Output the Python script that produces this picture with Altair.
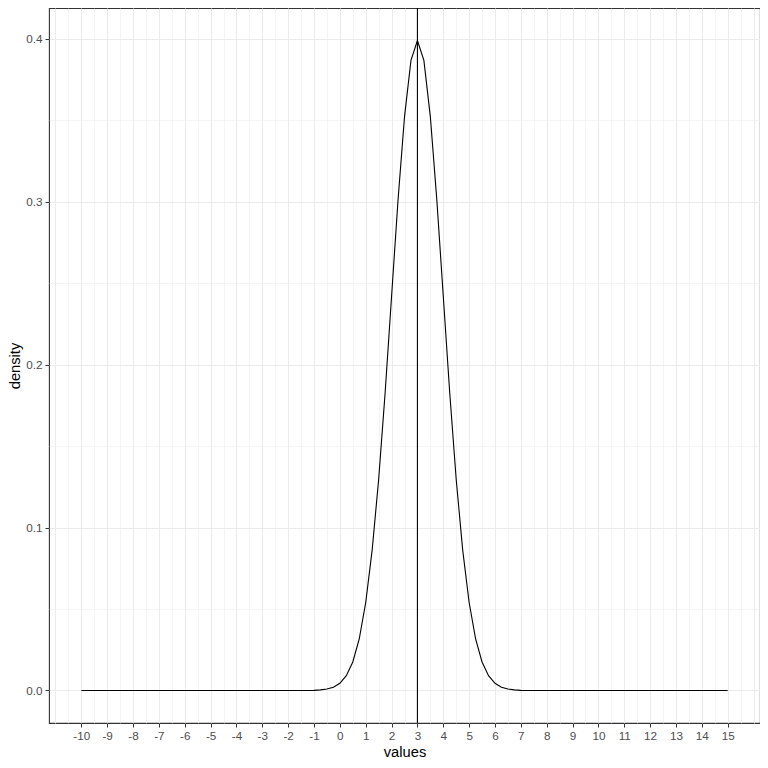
import altair as alt
import pandas as pd

# x positions of the density curve (step 0.25 from -10 to 15)
x_values = [
    -10.0, -9.75, -9.5, -9.25, -9.0, -8.75, -8.5, -8.25, -8.0, -7.75, -7.5, -7.25,
    -7.0, -6.75, -6.5, -6.25, -6.0, -5.75, -5.5, -5.25, -5.0, -4.75, -4.5, -4.25,
    -4.0, -3.75, -3.5, -3.25, -3.0, -2.75, -2.5, -2.25, -2.0, -1.75, -1.5, -1.25,
    -1.0, -0.75, -0.5, -0.25, 0.0, 0.25, 0.5, 0.75, 1.0, 1.25, 1.5, 1.75,
    2.0, 2.25, 2.5, 2.75, 3.0, 3.25, 3.5, 3.75, 4.0, 4.25, 4.5, 4.75,
    5.0, 5.25, 5.5, 5.75, 6.0, 6.25, 6.5, 6.75, 7.0,
    7.25, 7.5, 7.75, 8.0, 8.25, 8.5, 8.75, 9.0, 9.25, 9.5, 9.75, 10.0,
    10.25, 10.5, 10.75, 11.0, 11.25, 11.5, 11.75, 12.0, 12.25, 12.5, 12.75,
    13.0, 13.25, 13.5, 13.75, 14.0, 14.25, 14.5, 14.75, 15.0,
]
# density values
density_values = [
    0.0, 0.0, 0.0, 0.0, 0.0, 0.0, 0.0, 0.0, 0.0, 0.0, 0.0, 0.0,
    0.0, 0.0, 0.0, 0.0, 0.0, 0.0, 0.0, 0.0, 0.0, 0.0, 0.0, 0.0,
    0.0, 0.0, 0.0, 0.0, 0.0, 0.0, 0.0, 0.0, 0.0, 0.0, 0.0, 0.0,
    0.0001, 0.0004, 0.0009, 0.0020, 0.0044, 0.0091, 0.0175, 0.0317, 0.0540, 0.0863, 0.1295, 0.1826,
    0.2420, 0.3011, 0.3521, 0.3867, 0.3989, 0.3867, 0.3521, 0.3011, 0.2420, 0.1826, 0.1295, 0.0863,
    0.0540, 0.0317, 0.0175, 0.0091, 0.0044, 0.0020, 0.0009, 0.0004, 0.0001,
    0.0, 0.0, 0.0, 0.0, 0.0, 0.0, 0.0, 0.0, 0.0, 0.0, 0.0, 0.0,
    0.0, 0.0, 0.0, 0.0, 0.0, 0.0, 0.0, 0.0, 0.0, 0.0, 0.0,
    0.0, 0.0, 0.0, 0.0, 0.0, 0.0, 0.0, 0.0, 0.0,
]
mean_line = [3.0]

x_grid = [v / 2 for v in range(-22, 33)]          # -11 .. 16 every 0.5
y_grid = [0.0, 0.05, 0.1, 0.15, 0.2, 0.25, 0.3, 0.35, 0.4]

df = pd.DataFrame({"values": x_values, "density": density_values})
df_mean = pd.DataFrame({"mean": mean_line})

FONT = "Liberation Sans"
LABEL_COL = "#4D4D4D"
GRID_COL = "#EBEBEB"

x_major = "datum.value % 1 === 0 && datum.value >= -10 && datum.value <= 15"
y_major = "abs(datum.value * 10 - round(datum.value * 10)) < 0.001"

x_scale = alt.Scale(domain=[-11.25, 16.25], nice=False, zero=False)
y_scale = alt.Scale(domain=[-0.01995, 0.41889], nice=False, zero=False)

x_axis = alt.Axis(
    values=x_grid,
    title="values",
    labelExpr=f"({x_major}) ? '' + datum.value : ''",
    grid=True,
    gridColor=GRID_COL,
    gridWidth={"condition": {"test": "datum.value % 1 === 0", "value": 1.0}, "value": 0.55},
    tickOpacity={"condition": {"test": x_major, "value": 1}, "value": 0},
    tickColor="#333333",
    tickSize=4,
    labelPadding=3,
    titlePadding=3,
    domain=False,
    labelFlush=False,
    labelOverlap=False,
)
y_axis = alt.Axis(
    values=y_grid,
    title="density",
    labelExpr=f"({y_major}) ? format(datum.value, '.1f') : ''",
    grid=True,
    gridColor=GRID_COL,
    gridWidth={"condition": {"test": y_major, "value": 1.0}, "value": 0.55},
    tickOpacity={"condition": {"test": y_major, "value": 1}, "value": 0},
    tickColor="#333333",
    tickSize=4,
    labelPadding=3,
    titlePadding=3,
    domain=False,
    labelFlush=False,
    labelOverlap=False,
)

line = alt.Chart(df).mark_line(color="black", strokeWidth=1.1).encode(
    x=alt.X("values:Q", scale=x_scale, axis=x_axis),
    y=alt.Y("density:Q", scale=y_scale, axis=y_axis),
)
rule = alt.Chart(df_mean).mark_rule(color="black", strokeWidth=1.1).encode(
    x=alt.X("mean:Q", scale=x_scale, axis=x_axis),
)

chart = (
    alt.layer(line, rule)
    .properties(
        width=711,
        height=715,
        autosize=alt.AutoSizeParams(type="none"),
        padding={"left": 41, "top": 0, "right": 0, "bottom": 37},
        background="white",
    )
    .configure_view(stroke="#333333", strokeWidth=1.1)
    .configure_axis(
        labelFont=FONT,
        labelFontSize=11.7,
        labelColor=LABEL_COL,
        titleFont=FONT,
        titleFontSize=14.7,
        titleFontWeight="normal",
        titleColor="black",
    )
)

chart.save("out.html", embed_options={"renderer": "svg", "actions": False})
